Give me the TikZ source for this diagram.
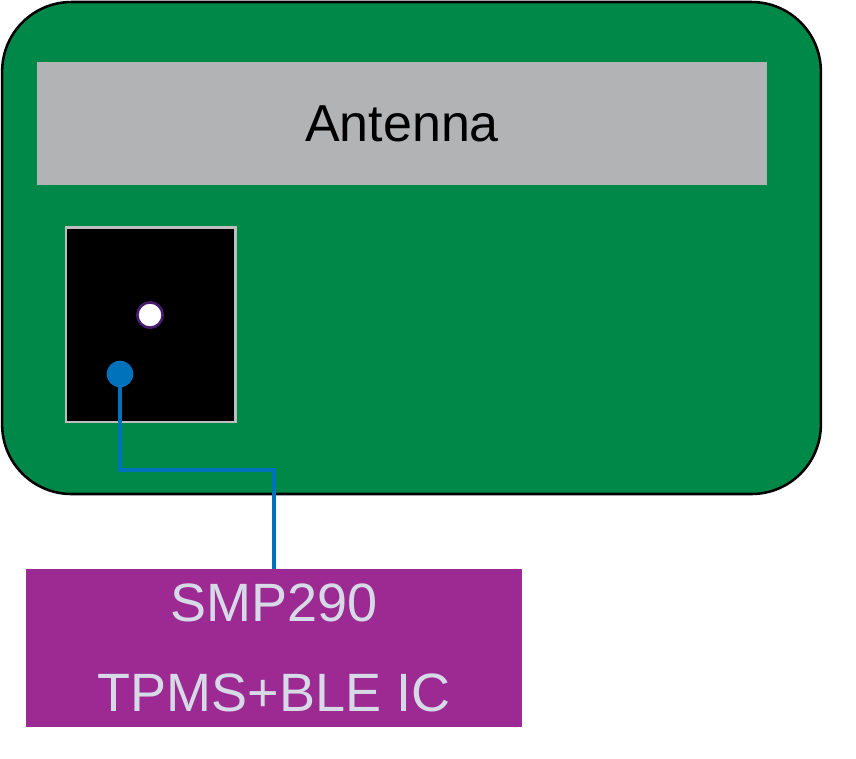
\documentclass[tikz,border=0pt]{standalone}
\usepackage{fontspec}
\setmainfont{Liberation Sans}
\usetikzlibrary{positioning,calc}
\definecolor{PlacaVerde}{RGB}{0,136,73}
\definecolor{AntenaGris}{RGB}{178,179,181}
\definecolor{ChipBorde}{RGB}{190,190,192}
\definecolor{PadMorado}{RGB}{72,28,110}
\definecolor{TrazaAzul}{RGB}{0,114,188}
\definecolor{ICMorado}{RGB}{157,41,146}
\definecolor{ICTexto}{RGB}{214,218,230}
\tikzset{
  placabox/.style={draw=black, line width=1.9pt, fill=PlacaVerde, rounded corners=52pt,
    minimum width=614pt, minimum height=369pt, inner sep=0pt},
  antenabox/.style={fill=AntenaGris, minimum width=548pt, minimum height=92pt,
    font=\fontsize{39}{46}\selectfont, inner sep=0pt},
  chipbox/.style={draw=ChipBorde, line width=2pt, fill=black,
    minimum width=127pt, minimum height=146pt, inner sep=0pt},
  padblanco/.style={circle, draw=PadMorado, line width=2pt, fill=white,
    minimum size=19pt, inner sep=0pt},
  padazul/.style={circle, fill=TrazaAzul, minimum size=20pt, inner sep=0pt},
  traza/.style={draw=TrazaAzul, line width=3.2pt},
  icbox/.style={fill=ICMorado, text=ICTexto, align=center, minimum width=372pt,
    minimum height=118pt, inner sep=0pt, font=\fontsize{40.5}{67}\selectfont},
}
\begin{document}
\begin{tikzpicture}[x=0.75pt, y=-0.75pt]
    \useasboundingbox (0,0) rectangle (856,758);
    \node[placabox] (placa) at (411.5,248) {};
    \node[antenabox] (antena) at (402,123.5) {Antenna};
    \node[chipbox] (chip) at (150.5,324.5) {};
    \node[padblanco] (pad1) at (150,315) {};
    \node[icbox] (ic) at (274,648) {SMP290\\TPMS+BLE IC};
    \coordinate (codo) at (274,470);
    \draw[traza] (120,374) |- (codo) -- (ic.north);
    \node[padazul] (pad2) at (120,374) {};
  \end{tikzpicture}
\end{document}
